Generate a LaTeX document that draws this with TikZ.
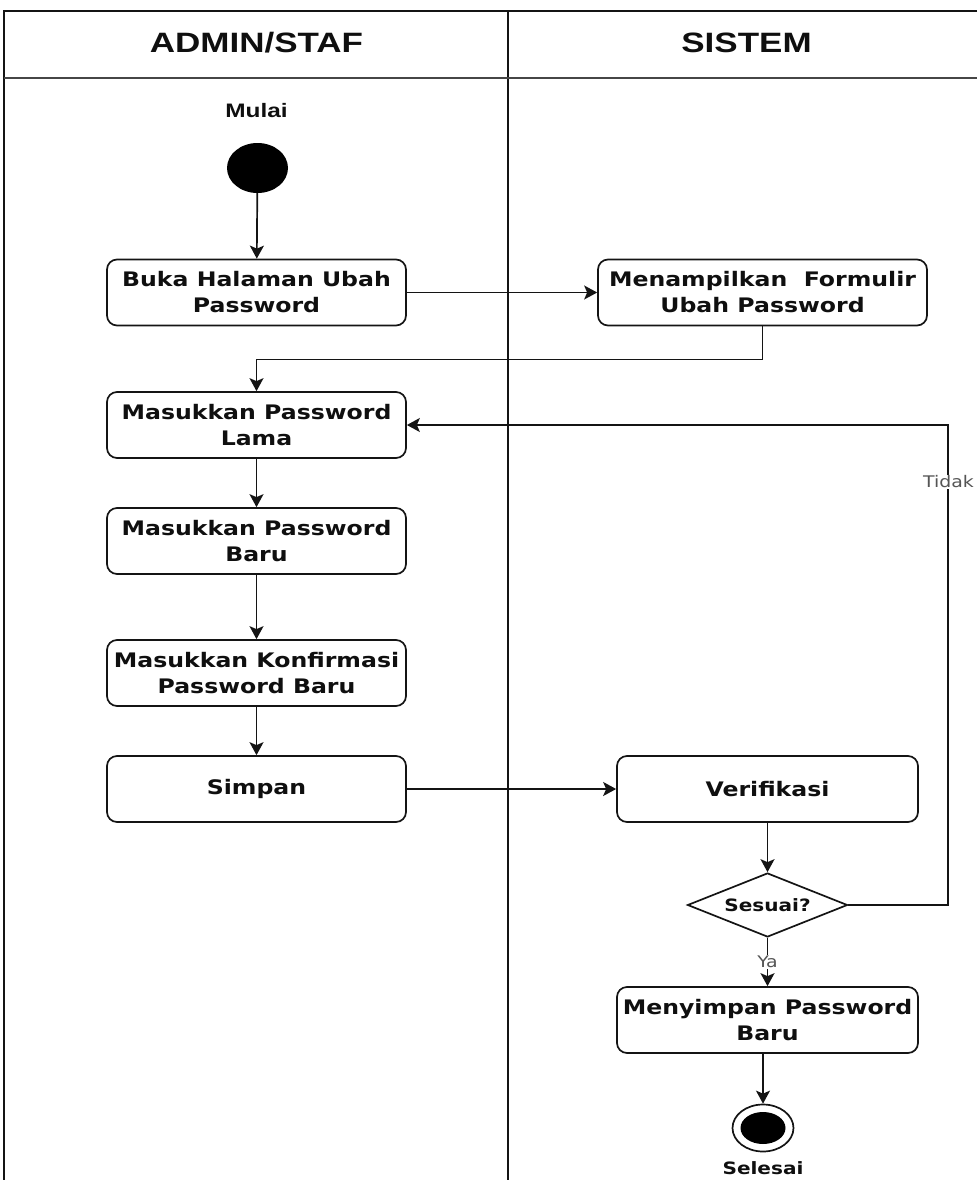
\documentclass[tikz,border=0pt]{standalone}
\usepackage{fontspec}
\setmainfont{DejaVu Sans}[FakeStretch=1.18]
\newfontfamily\hdfont{Liberation Sans}[FakeStretch=1.25]
\usetikzlibrary{arrows.meta,shapes.geometric}
\definecolor{ln}{RGB}{20,20,20}
\definecolor{tx}{RGB}{15,15,15}
\definecolor{lblc}{RGB}{85,85,85}
\definecolor{hdline}{RGB}{70,70,70}
\begin{document}
\begin{tikzpicture}[x=1pt,y=-1pt,
  act/.style={draw=ln, line width=1.7pt, rounded corners=10pt, fill=white,
    minimum height=66pt, text=tx, font=\fontsize{20}{26}\selectfont\bfseries,
    align=center, inner sep=0pt},
  flow/.style={draw=ln, line width=1.7pt, -{Stealth[length=13pt,width=14pt,inset=3pt]}},
  lane/.style={draw=ln, line width=1.6pt},
  hd/.style={text=tx, font=\hdfont\bfseries\fontsize{28}{30}\selectfont, inner sep=0pt},
  lbl/.style={fill=white, text=lblc, font=\fontsize{16}{18}\selectfont, inner sep=1pt}]
\useasboundingbox (0,0) rectangle (977,1180);

% swimlanes
\draw[lane] (977,11) -- (4,11) -- (4,1180);
\draw[lane] (508,11) -- (508,1180);
\draw[line width=2.4pt, draw=hdline] (4,78) -- (977,78);
\node[hd] (h1) at (256.5,43) {ADMIN/STAF};
\node[hd] (h2) at (746.5,43) {SISTEM};

% start
\node[text=tx, font=\hdfont\bfseries\fontsize{19.5}{22}\selectfont, inner sep=0pt] (mulai) at (256.5,110.5) {Mulai};
\node[ellipse, fill=black, minimum width=61pt, minimum height=50pt, inner sep=0pt] (start) at (257.5,168) {};

% activities
\node[act, minimum width=299pt] (b1) at (256.5,292.5) {Buka Halaman Ubah\\Password};
\node[act, minimum width=329pt] (b2) at (762.5,292.5) {Menampilkan\ \ Formulir\\Ubah Password};
\node[act, minimum width=299pt] (b3) at (256.5,425) {Masukkan Password\\Lama};
\node[act, minimum width=299pt] (b4) at (256.5,541) {Masukkan Password\\Baru};
\node[act, minimum width=299pt] (b5) at (256.5,673) {Masukkan Konfirmasi\\Password Baru};
\node[act, minimum width=299pt] (b6) at (256.5,789) {Simpan};
\node[act, minimum width=301pt] (b7) at (767.5,789) {Verifikasi};
\node[diamond, draw=ln, line width=1.7pt, fill=white, aspect=2.5, inner sep=0pt,
      minimum width=160pt, minimum height=64pt, text=tx,
      font=\fontsize{17}{20}\selectfont\bfseries] (dia) at (767.5,905) {Sesuai?};
\node[act, minimum width=301pt] (b8) at (767.5,1020) {Menyimpan Password\\Baru};

% end
\node[ellipse, draw=ln, line width=1.7pt, fill=white, minimum width=61pt, minimum height=47pt, inner sep=0pt] (endo) at (763,1128) {};
\node[ellipse, fill=black, minimum width=45pt, minimum height=32pt, inner sep=0pt] (endi) at (763,1128) {};
\node[text=tx, font=\fontsize{17}{20}\selectfont\bfseries, inner sep=0pt] (selesai) at (763,1168) {Selesai};

% connectors
\draw[flow] (start) -- (b1);
\draw[flow] (b1) -- (b2);
\draw[flow] (b2.south) -- ++(0,33) -| (b3.north);
\draw[flow] (b3) -- (b4);
\draw[flow] (b4) -- (b5);
\draw[flow] (b5) -- (b6);
\draw[flow] (b6) -- (b7);
\draw[flow] (b7) -- (dia);
\draw[flow] (dia.south) -- node[lbl] (ya) {Ya} (b8.north);
\coordinate (t1) at (948,905);
\coordinate (t2) at (948,425);
\draw[flow] (dia.east) -- (t1) -- (t2) -- (b3.east);
\node[lbl] (tidak) at (948.5,482) {Tidak};
\draw[flow] (endo.north |- b8.south) -- (endo.north);
\end{tikzpicture}
\end{document}
